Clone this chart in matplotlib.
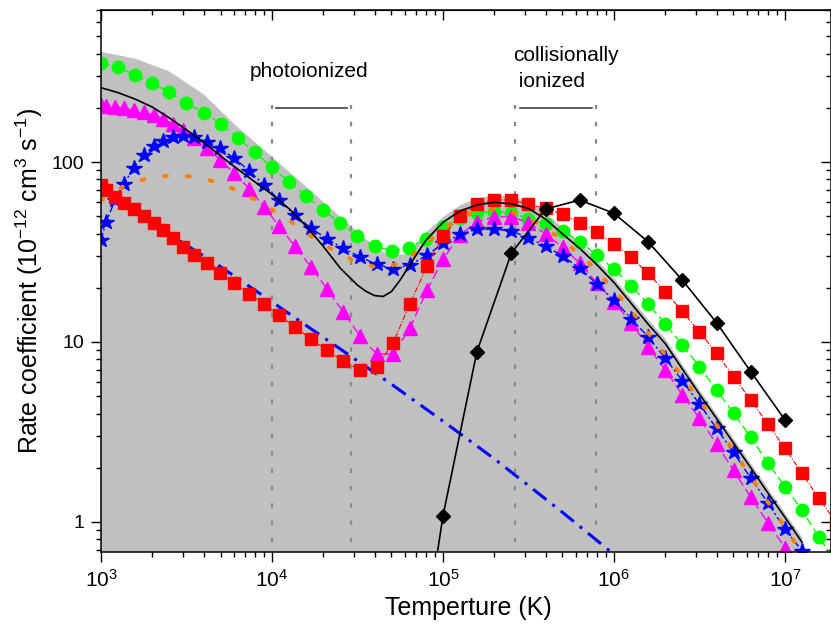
import matplotlib
matplotlib.use("Agg")
import matplotlib.pyplot as plt
from matplotlib.ticker import FixedLocator, FixedFormatter, NullFormatter

plt.rcParams['font.family'] = ['Liberation Sans', 'DejaVu Sans']
plt.rcParams['mathtext.fontset'] = 'custom'
plt.rcParams['mathtext.rm'] = 'Liberation Sans'
plt.rcParams['mathtext.it'] = 'Liberation Sans:italic'
plt.rcParams['mathtext.bf'] = 'Liberation Sans:bold'

# temperature grid (K), 0.1 dex steps
T_grid = [1.00e3, 1.26e3, 1.58e3, 2.00e3, 2.51e3, 3.16e3, 3.98e3, 5.01e3, 6.31e3, 7.94e3,
          1.00e4, 1.26e4, 1.58e4, 2.00e4, 2.51e4, 3.16e4, 3.98e4, 5.01e4, 6.31e4, 7.94e4,
          1.00e5, 1.26e5, 1.58e5, 2.00e5, 2.51e5, 3.16e5, 3.98e5, 5.01e5, 6.31e5, 7.94e5,
          1.00e6, 1.26e6, 1.58e6, 2.00e6, 2.51e6, 3.16e6, 3.98e6, 5.01e6, 6.31e6, 7.94e6,
          1.00e7, 1.26e7, 1.58e7, 2.00e7]

# temperatures of red / magenta / blue-star data (denser at low T)
ion_T = [1000, 1070, 1210, 1360, 1550, 1780, 2040, 2310, 2620, 3030,
         3510, 4180, 4960, 6010, 7380, 9010, 11000, 13600, 16900, 21000,
         26100, 32700, 40900, 51200, 64000, 80800, 1.0e5] + T_grid[21:]

green_k = [356, 338, 304, 274, 244, 212, 188, 163, 136, 113,
           93.3, 77.8, 64.7, 54.1, 45.6, 38.8, 34.1, 32.1, 33.4, 37.5,
           43.5, 48.6, 52.2, 53.0, 52.2, 48.5, 45.0, 41.5, 36.1, 30.4,
           25.4, 20.5, 16.3, 12.6, 9.62, 7.3, 5.41, 4.02, 2.95, 2.13,
           1.57, 1.16, 0.82, 0.6]

red_k = [74.5, 69.9, 64.3, 59.1, 54.6, 50.1, 46.0, 41.9, 37.7, 33.8,
         30.4, 27.4, 24.1, 21.2, 18.5, 16.2, 14.1, 12.1, 10.4, 8.99,
         7.82, 6.99, 7.23, 9.91, 16.3, 26.4, 38.8,
         50.1, 58.2, 61.5, 61.5, 58.2, 55.2, 51.2, 46.0, 40.6, 35.0,
         29.6, 24.1, 19.0, 14.8, 11.4, 8.65, 6.41, 4.76, 3.50, 2.57,
         1.86, 1.35, 0.99]

magenta_k = [207, 205, 202, 200, 194, 190, 182, 173, 163, 151,
             136, 120, 103, 86.9, 70.8, 56.2, 44.1, 34.1, 26.1, 19.7,
             14.7, 10.8, 8.58, 8.58, 11.9, 19.4, 28.8,
             39.3, 46.6, 49.6, 49.6, 46.0, 39.8, 33.7, 27.4, 21.3, 16.7,
             12.8, 9.42, 6.99, 5.08, 3.77, 2.71, 1.93, 1.37, 0.99, 0.72]

star_k = [36.9, 46.4, 61.5, 75.5, 92.6, 109, 123, 131, 137, 139,
          138, 130, 119, 105, 89.1, 74.5, 61.5, 50.8, 43.0, 37.3,
          33.2, 29.7, 27.0, 25.4, 26.8, 30.4, 35.3,
          39.6, 42.3, 42.3, 41.4, 38.0, 34.1, 30.0, 25.7, 21.0, 17.1,
          13.5, 10.7, 8.11, 6.09, 4.53, 3.31, 2.43, 1.75, 1.28, 0.91, 0.69]

diamond_T = [6.31e4, 1.0e5, 1.58e5, 2.51e5, 3.98e5, 6.31e5, 1.0e6, 1.58e6, 2.51e6, 3.98e6, 6.31e6, 1.0e7]
diamond_k = [0.06, 1.08, 8.83, 31.1, 54.8, 61.5, 51.9, 36.1, 22.1, 12.8, 6.84, 3.69]

total_T = [1.00e3, 1.26e3, 1.58e3, 2.00e3, 2.51e3, 3.16e3, 3.98e3, 5.01e3, 6.31e3, 7.94e3,
           1.00e4, 1.26e4, 1.58e4, 2.00e4, 2.51e4, 3.16e4, 3.55e4, 3.98e4, 4.47e4, 5.01e4,
           5.62e4, 6.31e4, 7.94e4, 1.00e5, 1.26e5, 1.58e5, 2.00e5, 2.51e5, 3.16e5, 3.98e5,
           5.01e5, 6.31e5, 7.94e5, 1.00e6, 1.26e6, 1.58e6, 2.00e6, 2.51e6, 3.16e6, 3.98e6,
           5.01e6, 6.31e6, 7.94e6, 1.00e7, 1.26e7]
total_k = [259, 243, 224, 202, 176, 151, 129, 108, 91.2, 77.6,
           66.1, 55.0, 44.2, 33.9, 25.7, 20.7, 19.1, 18.1, 17.9, 19.1,
           22.1, 26.3, 36.7, 46.2, 53.5, 57.8, 59.7, 58.6, 55.2, 48.2,
           39.8, 33.1, 26.9, 21.4, 16.4, 12.6, 9.77, 7.08, 5.13, 3.76,
           2.74, 2.0, 1.45, 1.06, 0.77]

orange_T = [1.0e3, 1.39e3, 1.91e3, 2.61e3, 3.58e3, 4.9e3, 6.65e3, 9.1e3, 1.245e4, 1.69e4,
            2.31e4, 3.17e4, 4.34e4, 5.94e4, 8.09e4, 1.11e5, 1.52e5, 2.06e5, 2.82e5, 3.86e5,
            5.22e5, 7.18e5, 9.7e5, 1.256e6, 1.6e6, 2.05e6, 2.6e6, 3.26e6, 4.02e6, 4.99e6,
            6.1e6, 7.53e6, 9.27e6, 1.14e7]
orange_k = [61.0, 74.5, 81.8, 84.3, 82.8, 76.7, 67.9, 57.7, 47.6, 38.8,
            32.1, 27.6, 25.6, 27.9, 35.6, 45.6, 53.0, 54.8, 51.4, 44.1,
            35.6, 27.4, 20.1, 15.1, 11.1, 8.22, 6.15, 4.56, 3.41, 2.51,
            1.87, 1.39, 1.04, 0.77]

rr_T = [1e3, 2e3, 5e3, 1e4, 2e4, 5e4, 1e5, 2e5, 5e5, 1e6]
rr_k = [71.9, 45.4, 26.2, 16.7, 10.6, 5.82, 3.63, 2.24, 1.13, 0.66]

env_T = [1.00e3, 1.58e3, 2.51e3, 3.98e3, 6.31e3, 1.00e4, 1.58e4, 2.51e4, 3.55e4, 4.47e4,
         5.01e4, 6.31e4, 7.94e4, 1.00e5, 1.26e5, 1.58e5, 2.00e5, 2.51e5, 3.16e5, 3.98e5,
         5.01e5, 6.31e5, 7.94e5, 1.00e6, 1.26e6, 1.58e6, 2.00e6, 2.51e6, 3.16e6, 3.98e6,
         5.01e6, 6.31e6, 7.94e6, 1.00e7, 1.26e7]
env_k = [410, 376, 319, 238, 156, 107, 73.1, 49.6, 37.1, 31.6,
         30.4, 30.8, 40.5, 49.3, 57.5, 62.8, 65.2, 64.6, 60.1, 52.4,
         43.0, 35.7, 28.5, 22.7, 17.4, 13.4, 10.4, 7.5, 5.44, 3.99,
         2.9, 2.12, 1.54, 1.12, 0.82]

photo_T = [1.0e4, 2.9e4]
coll_T = [2.65e5, 7.9e5]
photo_bar = [1.05e4, 2.73e4]
coll_bar = [2.84e5, 7.41e5]

fig = plt.figure(figsize=(8.31, 6.28), dpi=100)
ax = fig.add_axes([101/831, 76/628, 730/831, 542/628])
ax.set_xscale('log')
ax.set_yscale('log')

ax.fill_between(env_T, 0.01, env_k, color='#c0c0c0', lw=0, zorder=1)

for t in photo_T + coll_T:
    ax.plot([t, t], [0.01, 207], color='#8a8a8a', lw=1.6, ls=(0, (2.0, 5.8)), zorder=2)
ax.plot(photo_bar, [200, 200], color='#333333', lw=1.1, zorder=2)
ax.plot(coll_bar, [200, 200], color='#333333', lw=1.1, zorder=2)

ax.plot(rr_T, rr_k, color='#0000ff', lw=2.2, ls=(0, (5.5, 2.5, 1, 2.5)), zorder=3)

ax.plot(T_grid, green_k, color='#00ff00', lw=1, ls=(0, (6, 3)), marker='o', ms=9,
        mec='#00ff00', mfc='#00ff00', zorder=4)
ax.plot(ion_T[:len(magenta_k)], magenta_k, color='#ff00ff', lw=1, ls=(0, (7, 3)),
        marker='^', ms=9.5, mec='#ff00ff', mfc='#ff00ff', zorder=5)
ax.plot(ion_T[:len(star_k)], star_k, color='#0000ff', lw=1, ls=(0, (5, 2, 1.5, 2)),
        marker='*', ms=11.5, mec='#0000ff', mfc='#0000ff', zorder=6)
ax.plot(ion_T, red_k, color='#ff0000', lw=0.8, ls=(0, (5, 1.5, 1, 1.5)),
        marker='s', ms=8, mec='#ff0000', mfc='#ff0000', zorder=7)
ax.plot(orange_T, orange_k, color='#ff8000', lw=2.9, ls=(0, (0.7, 5.0)),
        dash_capstyle='round', zorder=8)
ax.plot(total_T, total_k, color='black', lw=1.2, zorder=9)
ax.plot(diamond_T, diamond_k, color='black', lw=1.2, zorder=10)
ax.plot(diamond_T[1:], diamond_k[1:], ls='none', marker='D', ms=7.5,
        mec='black', mfc='black', zorder=10)

ax.text(7.43e3, 296, 'photoionized', fontsize=15, ha='left', va='baseline')
ax.text(2.57e5, 364, 'collisionally', fontsize=15, ha='left', va='baseline')
ax.text(2.57e5, 260, ' ionized', fontsize=15, ha='left', va='baseline')

ax.set_xlim(1e3, 1.86e7)
ax.set_ylim(0.68, 700)

ax.yaxis.set_major_locator(FixedLocator([1, 10, 100]))
ax.yaxis.set_major_formatter(FixedFormatter(['1', '10', '100']))
ax.yaxis.set_minor_formatter(NullFormatter())
ax.xaxis.set_minor_formatter(NullFormatter())

ax.tick_params(which='major', direction='out', length=7, width=1)
ax.tick_params(which='minor', direction='out', length=3.5, width=1)
ax.tick_params(axis='x', which='major', labelsize=15, pad=5)
ax.tick_params(axis='y', which='major', labelsize=14, pad=5)

top = ax.secondary_xaxis('top')
top.tick_params(which='major', direction='in', length=7, width=1, labeltop=False)
top.tick_params(which='minor', direction='in', length=3.5, width=1)
top.xaxis.set_major_formatter(NullFormatter())
top.xaxis.set_minor_formatter(NullFormatter())
right = ax.secondary_yaxis('right')
right.yaxis.set_major_locator(FixedLocator([1, 10, 100]))
right.tick_params(which='major', direction='in', length=7, width=1, labelright=False)
right.tick_params(which='minor', direction='in', length=3.5, width=1)
right.yaxis.set_major_formatter(NullFormatter())
right.yaxis.set_minor_formatter(NullFormatter())
for sp in ax.spines.values():
    sp.set_linewidth(1.1)
    sp.set_zorder(20)

ax.set_xlabel('Temperture (K)', fontsize=18)
ax.set_ylabel(r'Rate coefficient (10$^{-12}$ cm$^{3}$ s$^{-1}$)', fontsize=18)
ax.xaxis.set_label_coords(0.503, -0.081)
ax.yaxis.set_label_coords(-0.077, 0.5)

fig.savefig('out.png', dpi=100)
